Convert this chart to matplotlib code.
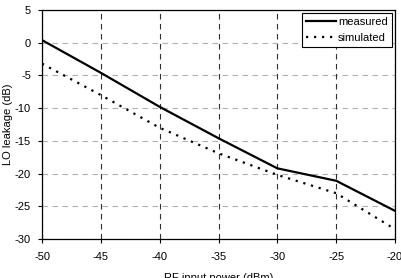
import matplotlib
matplotlib.use("Agg")
import matplotlib.pyplot as plt

rf_power = [-50, -45, -40, -35, -30, -25, -20]
measured = [0.4, -4.6, -9.8, -14.6, -19.2, -21.1, -25.7]
simulated = [-3.2, -8.0, -13.0, -16.9, -20.2, -23.0, -28.5]
x_ticks = [-50, -45, -40, -35, -30, -25, -20]
y_ticks = [5, 0, -5, -10, -15, -20, -25, -30]

plt.rcParams['font.family'] = ['Liberation Sans', 'DejaVu Sans']
plt.rcParams['axes.unicode_minus'] = False

fig = plt.figure(figsize=(4.02, 2.78), dpi=100)
ax = fig.add_axes([42/402, 1-239/278, (395-42)/402, (239-10)/278])

for yv in y_ticks:
    ax.axhline(yv, color='#b0b0b0', linestyle=(0, (5, 4)), linewidth=0.8, zorder=1)
for xv in x_ticks:
    ax.axvline(xv, color='#303030', linestyle=(0, (5, 4)), linewidth=0.8, zorder=1)

ax.plot(rf_power, measured, color='black', linewidth=1.6, label='measured', zorder=3)
ax.plot(rf_power, simulated, color='black', linewidth=1.6, linestyle=(0, (1, 2.6)),
        label='simulated', zorder=3)

ax.set_xlim(-50, -20)
ax.set_ylim(-30, 5)
ax.set_xticks(x_ticks)
ax.set_yticks(y_ticks)
ax.tick_params(axis='x', labelsize=8, length=3, width=0.8, direction='out', color='black', pad=6)
ax.tick_params(axis='y', labelsize=8, length=3, width=0.8, direction='out', color='black', pad=5)
for s in ax.spines.values():
    s.set_linewidth(0.9)
ax.set_xlabel('RF input power (dBm)', fontsize=8, labelpad=8)
ax.set_ylabel('LO leakage (dB)', fontsize=8, labelpad=1)

leg = ax.legend(loc='upper right', fontsize=8, frameon=True, fancybox=False,
                edgecolor='black', framealpha=1, handlelength=2.7, handletextpad=0.2,
                borderpad=0.35, labelspacing=0.55, borderaxespad=0.3)
leg.get_frame().set_linewidth(0.8)

fig.savefig('out.png', dpi=100)
